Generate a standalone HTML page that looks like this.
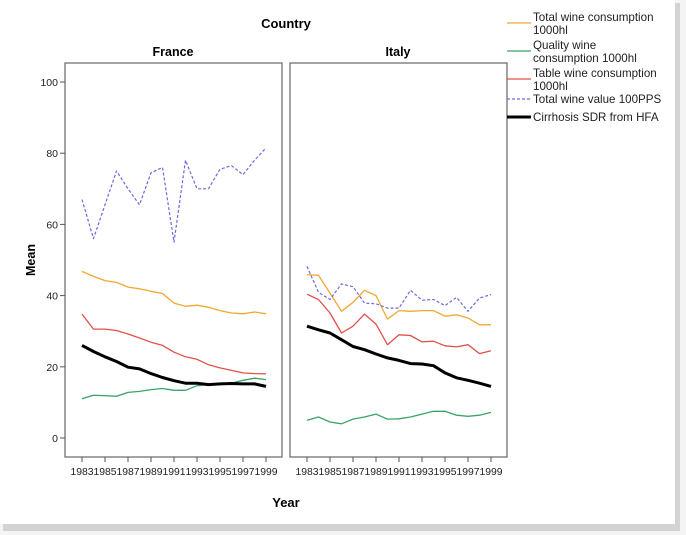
<!DOCTYPE html>
<html><head><meta charset="utf-8"><style>
body{margin:0;background:#fff;font-family:"Liberation Sans",sans-serif}
svg{display:block}
</style></head><body>
<svg width="686" height="535" viewBox="0 0 686 535">
<rect x="0" y="0" width="686" height="535" fill="#f4f4f4"/>
<rect x="3" y="3" width="677" height="528" fill="#bdbdbd" opacity="0.6"/>
<rect x="0" y="0" width="675" height="524" fill="#fff"/>
<text x="286" y="28" font-size="13" font-weight="bold" text-anchor="middle">Country</text>
<text x="173" y="56" font-size="12.5" font-weight="bold" text-anchor="middle">France</text>
<text x="398" y="56" font-size="12.5" font-weight="bold" text-anchor="middle">Italy</text>
<text x="35" y="260" font-size="12.5" font-weight="bold" text-anchor="middle" transform="rotate(-90 35 260)">Mean</text>
<text x="286" y="507" font-size="13" font-weight="bold" text-anchor="middle">Year</text>
<g id="plot"></g>
<g id="legend"></g>
</svg>
<script>
const years=[1983,1984,1985,1986,1987,1988,1989,1990,1991,1992,1993,1994,1995,1996,1997,1998,1999];
const yTicks=[0,20,40,60,80,100];
const xTickLabels=[1983,1985,1987,1989,1991,1993,1995,1997,1999];
const seriesNames=["Total wine consumption 1000hl","Quality wine consumption 1000hl","Table wine consumption 1000hl","Total wine value 100PPS","Cirrhosis SDR from HFA"];
const franceTotal=[46.8,45.4,44.2,43.7,42.4,41.9,41.2,40.6,37.9,37.0,37.3,36.7,35.8,35.1,34.9,35.4,34.9];
const franceQuality=[11.0,12.0,11.9,11.7,12.8,13.1,13.6,13.9,13.4,13.4,14.7,15.0,15.0,15.4,16.2,16.8,16.4];
const franceTable=[34.8,30.6,30.6,30.2,29.2,28.1,26.9,26.0,24.1,22.8,22.1,20.6,19.7,19.0,18.3,18.1,18.0];
const franceValue=[67,56,65.5,75,70,65.5,74.5,76,55,78,70,70,75.5,76.5,74,78,81.5];
const franceCirrhosis=[26.0,24.3,22.8,21.5,19.9,19.4,18.1,17.0,16.1,15.4,15.4,15.0,15.2,15.3,15.2,15.2,14.5];
const italyTotal=[45.9,45.7,40.7,35.6,38.1,41.5,40.0,33.4,35.8,35.6,35.8,35.8,34.2,34.6,33.7,31.8,31.8];
const italyQuality=[5.0,5.9,4.5,4.0,5.3,5.9,6.7,5.3,5.4,5.9,6.7,7.5,7.5,6.4,6.1,6.4,7.2];
const italyTable=[40.4,38.9,35.1,29.5,31.4,34.8,32.0,26.2,29.0,28.8,27.0,27.2,25.9,25.6,26.2,23.7,24.5];
const italyValue=[48.2,40.9,38.9,43.3,42.5,37.9,37.7,36.5,36.5,41.5,38.7,38.9,37.2,39.5,35.6,39.3,40.3];
const italyCirrhosis=[31.4,30.4,29.5,27.6,25.7,24.8,23.6,22.5,21.8,20.9,20.8,20.3,18.3,16.9,16.2,15.4,14.5];

const NS="http://www.w3.org/2000/svg";
const plot=document.getElementById('plot');
const styles=[{c:"#f0a830",w:1.3,d:""},{c:"#3aa36a",w:1.3,d:""},{c:"#e0504a",w:1.3,d:""},{c:"#6a6ae0",w:1.2,d:"3,2"},{c:"#000",w:3,d:""}];
const yTop=63,yBot=457;
function yS(v){return 438-v*3.56;}
function mk(tag,attrs,parent){const e=document.createElementNS(NS,tag);for(const k in attrs)e.setAttribute(k,attrs[k]);parent.appendChild(e);return e;}
function panel(left,name,data){
  const x0=left+17,x1=left+201;
  const xS=y=>x0+(y-years[0])*(x1-x0)/(years[years.length-1]-years[0]);
  const fr=mk('rect',{x:left,y:yTop,width:217,height:yBot-yTop,fill:'#fff',stroke:'#666','stroke-width':1.2},plot);
  
  
  xTickLabels.forEach(t=>{
    const x=xS(t);
    const tk=mk('line',{x1:x,x2:x,y1:yBot,y2:yBot+5,stroke:'#555'},plot);
    
    
    const tx=mk('text',{x:x,y:yBot+18,'font-size':10.4,'text-anchor':'middle',fill:'#222'},plot);
    tx.textContent=t;
    
    
  });
  data.forEach((arr,i)=>{
    const s=styles[i];
    const pts=arr.map((v,j)=>xS(years[j]).toFixed(1)+','+yS(v).toFixed(1)).join(' ');
    const pl=mk('polyline',{points:pts,fill:'none',stroke:s.c,'stroke-width':s.w,'stroke-dasharray':s.d,'stroke-linejoin':'round'},plot);
    
    
  });
}
panel(65,'france',[franceTotal,franceQuality,franceTable,franceValue,franceCirrhosis]);
panel(290,'italy',[italyTotal,italyQuality,italyTable,italyValue,italyCirrhosis]);
yTicks.forEach(t=>{
  const y=yS(t);
  const tk=mk('line',{x1:60,x2:65,y1:y,y2:y,stroke:'#555'},plot);
  
  
  const tx=mk('text',{x:58,y:y+4,'font-size':10.5,'text-anchor':'end',fill:'#222'},plot);
  tx.textContent=t;
  
  
});
const leg=document.getElementById('legend');
const rows=[["Total wine consumption","1000hl"],["Quality wine","consumption 1000hl"],["Table wine consumption","1000hl"],["Total wine value 100PPS"],["Cirrhosis SDR from HFA"]];
const rowY=[23,51,79,99,117];
rows.forEach((r,i)=>{
  const s=styles[i];
  const ly=rowY[i];
  const g=mk('g',{},leg);
  
  
  mk('line',{x1:507,x2:531,y1:ly,y2:ly,stroke:s.c,'stroke-width':s.w,'stroke-dasharray':s.d},g);
  const base=r.length>1?ly-2:ly+4;
  r.forEach((t,k)=>{
    const tx=mk('text',{x:533,y:base+k*13,'font-size':11.6,fill:'#222'},g);
    tx.textContent=t;
  });
});
</script>
</body></html>
